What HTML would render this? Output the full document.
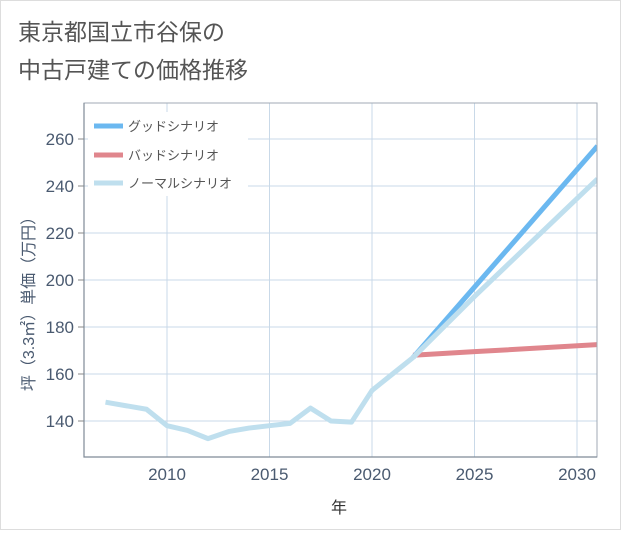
<!DOCTYPE html>
<html><head><meta charset="utf-8">
<style>
body{margin:0;background:#fff;}
#wrap{position:relative;width:621px;height:530px;background:#fff;font-family:"Liberation Sans","Noto Sans CJK JP",sans-serif;}
</style></head>
<body>
<div id="wrap">
<svg id="chart" width="621" height="530" xmlns="http://www.w3.org/2000/svg">
<rect x="0.5" y="0.5" width="620" height="529" fill="#fff" stroke="#ddd"/>
<text x="18" y="40" font-size="23" fill="#555">東京都国立市谷保の</text>
<text x="18" y="78" font-size="23" fill="#555">中古戸建ての価格推移</text>
<g id="grid"></g>
<g id="series"></g>
<g id="axes"></g>
<g id="legend"></g>
<text x="339" y="513" font-size="16" fill="#333" text-anchor="middle">年</text>
<text transform="translate(34,300) rotate(-90)" font-size="16" fill="#4a5a70" text-anchor="middle">坪（3.3㎡）単価（万円）</text>
</svg>
</div>
<script>
const years=[2007,2008,2009,2010,2011,2012,2013,2014,2015,2016,2017,2018,2019,2020,2021,2022];
const normalHist=[148,146.5,145,138,136,132.5,135.5,137,138,139,145.5,140,139.5,153,160,167];
const futureYears=[2022,2025,2031];
const goodVals=[167,197,257];
const badVals=[168,169.5,172.5];
const normalVals=[167,193,243];
const xTicks=[2010,2015,2020,2025,2030];
const yTicks=[140,160,180,200,220,240,260];

const L=84,R=597,T=103,B=457;
const x=v=>167+(v-2010)*20.5;
const y=v=>421-(v-140)*2.35;
const ns="http://www.w3.org/2000/svg";
function mk(tag,attrs,parent){const e=document.createElementNS(ns,tag);for(const k in attrs)e.setAttribute(k,attrs[k]);parent.appendChild(e);return e;}
const grid=document.getElementById('grid'),axes=document.getElementById('axes'),ser=document.getElementById('series'),leg=document.getElementById('legend');
xTicks.forEach(t=>{
 const l=mk('line',{x1:x(t),x2:x(t),y1:T,y2:B,stroke:'#c9d9e8','stroke-width':1},grid);
 
 
 const tx=mk('text',{x:x(t),y:B+23,'font-size':17,fill:'#4a5a70','text-anchor':'middle'},axes);
 tx.textContent=t;
 
 
});
yTicks.forEach(t=>{
 const l=mk('line',{x1:L,x2:R,y1:y(t),y2:y(t),stroke:'#c9d9e8','stroke-width':1},grid);
 
 
 const tk=mk('line',{x1:L-6,x2:L,y1:y(t),y2:y(t),stroke:'#888'},axes);
 
 
 const tx=mk('text',{x:L-10,y:y(t)+6,'font-size':17,fill:'#4a5a70','text-anchor':'end'},axes);
 tx.textContent=t;
 
 
});
const frame=mk('rect',{x:L,y:T,width:R-L,height:B-T,fill:'none',stroke:'#a0aab5','stroke-width':1},axes);


const ax=mk('polyline',{points:L+','+T+' '+L+','+B+' '+R+','+B,fill:'none',stroke:'#7f8a96','stroke-width':1.2},axes);


function line(xs,vs,color,name){
 const p=mk('polyline',{points:xs.map((v,i)=>x(v)+','+y(vs[i])).join(' '),fill:'none',stroke:color,'stroke-width':5,'stroke-linejoin':'round'},ser);
 
 
}
const cp=mk('clipPath',{id:'clip'},document.getElementById('chart'));
mk('rect',{x:L,y:T,width:R-L,height:B-T},cp);
ser.setAttribute('clip-path','url(#clip)');
line(futureYears,badVals,'#e0868d','bad-scenario-line');
line(futureYears,goodVals,'#6bb8f0','good-scenario-line');
line(futureYears,normalVals,'#bfdfee','normal-scenario-line');
line(years,normalHist,'#bfdfee','historical-price-line');
const lbg=mk('rect',{x:88,y:112,width:160,height:84,fill:'#fff'},leg);


[['グッドシナリオ','#6bb8f0',126],['バッドシナリオ','#e0868d',155],['ノーマルシナリオ','#bfdfee',183]].forEach((d,i)=>{
 const s=mk('line',{x1:94,x2:123,y1:d[2],y2:d[2],stroke:d[1],'stroke-width':5},leg);
 
 
 const t=mk('text',{x:128,y:d[2]+5,'font-size':13,fill:'#555'},leg);
 t.textContent=d[0];
 
 
});
</script>
</body></html>
